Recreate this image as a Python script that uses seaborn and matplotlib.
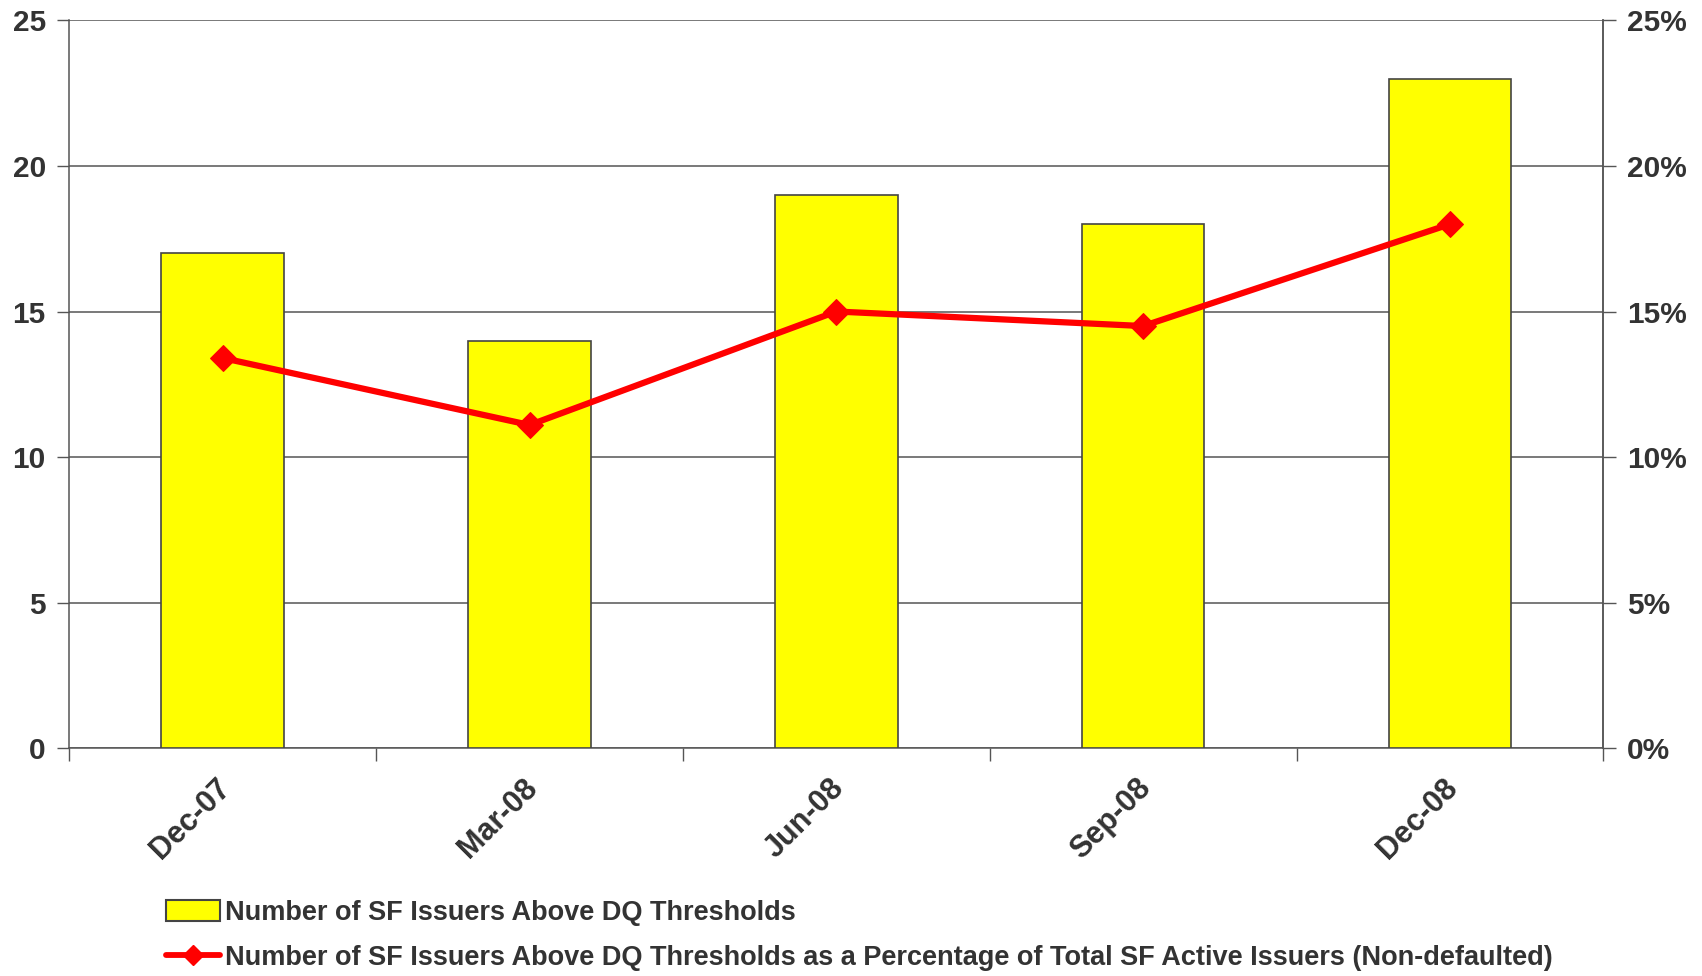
import matplotlib
matplotlib.use("Agg")
import matplotlib.pyplot as plt
from matplotlib.ticker import PercentFormatter, FixedLocator, NullFormatter
from matplotlib.lines import Line2D
from matplotlib.patches import Patch
from matplotlib.transforms import ScaledTranslation
import seaborn as sns
import pandas as pd

quarters = ["Dec-07", "Mar-08", "Jun-08", "Sep-08", "Dec-08"]
issuers_above = [17, 14, 19, 18, 23]
pct_of_active = [0.134, 0.111, 0.150, 0.145, 0.180]
left_ticks = [0, 5, 10, 15, 20, 25]
right_ticks = [0, 0.05, 0.10, 0.15, 0.20, 0.25]
bar_label = "Number of SF Issuers Above DQ Thresholds"
line_label = "Number of SF Issuers Above DQ Thresholds as a Percentage of Total SF Active Issuers (Non-defaulted)"

df = pd.DataFrame({"quarter": quarters, "count": issuers_above, "pct": pct_of_active})

sns.set_style("white")
plt.rcParams["font.family"] = ["Liberation Sans", "DejaVu Sans"]
plt.rcParams["font.weight"] = "bold"

txt = "#333333"
grid = "#555555"

fig = plt.figure(figsize=(17.02, 9.76), dpi=100)
ax = fig.add_axes([0.0408, 0.2336, 0.9012, 0.7454])

sns.barplot(data=df, x="quarter", y="count", color="#FFFF00", saturation=1,
            edgecolor="#444444", linewidth=1.2, width=0.4, ax=ax, zorder=3)
ax.set_xlim(-0.5, len(quarters) - 0.5)
ax.set_ylim(0, 25)
ax.set_yticks(left_ticks)
ax.yaxis.grid(True, color=grid, linewidth=1.1, zorder=0)
ax.set_axisbelow(True)
ax.set_xlabel("")
ax.set_ylabel("")

ax.tick_params(axis="y", which="major", length=9, width=1, color=grid,
               labelsize=21.5, labelcolor=txt, pad=8, left=True)
ax.tick_params(axis="x", which="major", length=0, labelsize=22, labelcolor=txt, pad=18)
ax.xaxis.set_minor_locator(FixedLocator([i - 0.5 for i in range(len(quarters) + 1)]))
ax.xaxis.set_minor_formatter(NullFormatter())
ax.tick_params(axis="x", which="minor", length=9, width=1, color=grid, bottom=True)
shift = ScaledTranslation(-5 / 72, 0, fig.dpi_scale_trans)
for lbl in ax.get_xticklabels():
    lbl.set_rotation(45)
    lbl.set_ha("right")
    lbl.set_rotation_mode("anchor")
    lbl.set_fontweight("bold")
    lbl.set_transform(lbl.get_transform() + shift)
for lbl in ax.get_yticklabels():
    lbl.set_fontweight("bold")

for side in ["left", "right", "bottom"]:
    ax.spines[side].set_visible(True)
    ax.spines[side].set_color(grid)
    ax.spines[side].set_linewidth(1.1)
ax.spines["top"].set_visible(False)

ax2 = ax.twinx()
sns.lineplot(data=df, x="quarter", y="pct", color="#FF0000", linewidth=4.5,
             marker="D", markersize=13, markeredgecolor="#FF0000", sort=False,
             ax=ax2, zorder=5)
ax2.set_ylim(0, 0.25)
ax2.set_yticks(right_ticks)
ax2.yaxis.set_major_formatter(PercentFormatter(1, decimals=0))
ax2.tick_params(axis="y", length=9, width=1, color=grid, labelsize=21.5,
                labelcolor=txt, pad=8, right=True)
for lbl in ax2.get_yticklabels():
    lbl.set_fontweight("bold")
ax2.set_ylabel("")
ax2.set_xlabel("")
for side in ["left", "top", "bottom"]:
    ax2.spines[side].set_visible(False)
ax2.spines["right"].set_color(grid)
ax2.spines["right"].set_linewidth(1.1)

handles = [
    Patch(facecolor="#FFFF00", edgecolor="#444444", linewidth=1.5),
    Line2D([0], [0], color="#FF0000", linewidth=4.2, marker="D", markersize=10),
]
leg = fig.legend(handles, [bar_label, line_label], loc="upper left",
                 bbox_to_anchor=(0.083, 0.103), frameon=False, fontsize=19.5,
                 handlelength=2.0, handleheight=0.8, handletextpad=0.2,
                 labelspacing=0.72)
for t in leg.get_texts():
    t.set_color(txt)
    t.set_fontweight("bold")

fig.savefig("out.png", dpi=100)
